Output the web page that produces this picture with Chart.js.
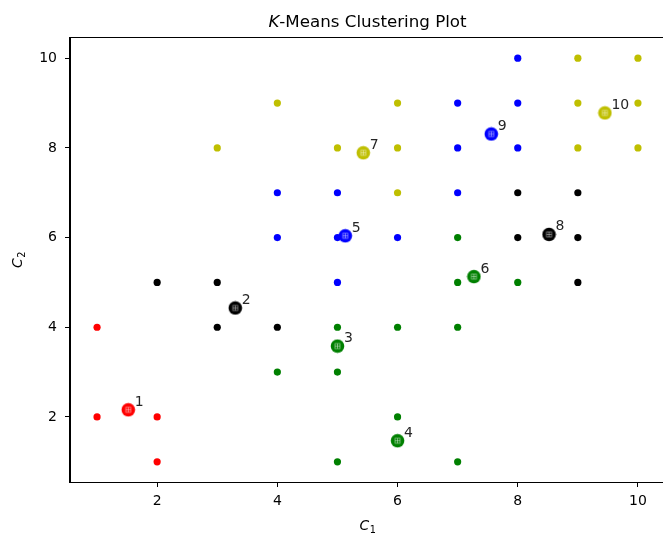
<!DOCTYPE html>
<html>
<head>
<meta charset="utf-8">
<script src="https://cdn.jsdelivr.net/npm/chart.js@4.4.1/dist/chart.umd.min.js"></script>
<style>
  html, body { margin: 0; padding: 0; overflow: hidden; background: #fff; }
  #wrap { width: 663px; height: 535px; overflow: hidden; position: relative; }
  canvas { display: block; }
</style>
</head>
<body>
<div id="wrap">
<canvas id="chart" width="680" height="535" style="width:680px;height:535px"></canvas>
</div>
<script>
// cluster members, [C1, C2]
const redPoints = [[1, 4], [1, 2], [2, 2], [2, 1]];
const blackPoints = [[2, 5], [3, 5], [3, 4], [4, 4], [8, 7], [9, 7], [8, 6], [9, 6], [9, 5]];
const greenPoints = [[4, 3], [5, 4], [5, 3], [5, 1], [6, 4], [6, 2], [7, 1], [7, 4], [7, 5], [8, 5], [7, 6]];
const bluePoints = [[4, 7], [5, 7], [4, 6], [5, 6], [5, 5], [6, 6], [7, 7], [7, 8], [8, 8], [7, 9], [8, 9], [8, 10]];
const yellowPoints = [[3, 8], [4, 9], [5, 8], [6, 9], [6, 8], [6, 7], [9, 10], [10, 10], [9, 9], [10, 9], [9, 8], [10, 8]];

// centroids
const centroidLabels = ['1', '2', '3', '4', '5', '6', '7', '8', '9', '10'];
const centroidX = [1.52, 3.3, 5.0, 6.0, 5.13, 7.27, 5.43, 8.52, 7.56, 9.45];
const centroidY = [2.16, 4.43, 3.58, 1.47, 6.04, 5.13, 7.89, 6.07, 8.31, 8.78];
const centroidColors = ['red', 'black', 'green', 'green', 'blue', 'green', 'yellow', 'black', 'blue', 'yellow'];

const xTicks = [2, 4, 6, 8, 10];
const yTicks = [2, 4, 6, 8, 10];

const colors = { red: '#ff0000', black: '#000000', green: '#008000', blue: '#0000ff', yellow: '#bfbf00' };
const FONT = 'DejaVu Sans';

function toXY(list) {
  return list.map(p => ({ x: p[0], y: p[1] }));
}

// big round marker with a faint white cross, like the centroids in the picture
const markerCache = {};
function centroidMarker(name) {
  if (markerCache[name]) return markerCache[name];
  const c = document.createElement('canvas');
  c.width = 15; c.height = 15;
  const g = c.getContext('2d');
  g.fillStyle = colors[name];
  g.beginPath();
  g.arc(7.5, 7.5, 6.8, 0, Math.PI * 2);
  g.fill();
  g.strokeStyle = 'rgba(255,255,255,0.55)';
  g.lineWidth = 0.8;
  g.strokeRect(5, 5, 5, 5);
  g.beginPath();
  g.moveTo(7.5, 5); g.lineTo(7.5, 10);
  g.moveTo(5, 7.5); g.lineTo(10, 7.5);
  g.stroke();
  markerCache[name] = c;
  return c;
}

function dotSet(points, name) {
  return {
    data: toXY(points),
    backgroundColor: colors[name],
    borderWidth: 0,
    pointRadius: 3.6,
    order: 1
  };
}

const frameAndText = {
  id: 'frameAndText',
  afterDatasetsDraw(chart) {
    const ctx = chart.ctx;
    const meta = chart.getDatasetMeta(chart.data.datasets.length - 1);
    ctx.save();
    ctx.fillStyle = '#262626';
    ctx.font = '14px "' + FONT + '"';
    ctx.textAlign = 'left';
    ctx.textBaseline = 'alphabetic';
    meta.data.forEach((el, i) => {
      ctx.fillText(centroidLabels[i], el.x + 6.5, el.y - 4);
    });
    ctx.restore();
  },
  afterDraw(chart) {
    const ctx = chart.ctx;
    const a = chart.chartArea;
    ctx.save();
    ctx.strokeStyle = '#000';
    ctx.lineWidth = 1;
    ctx.strokeRect(Math.round(a.left) - 0.5, Math.round(a.top) - 0.5, Math.round(a.right - a.left) + 1, Math.round(a.bottom - a.top) + 1);

    // title with italic K
    ctx.fillStyle = '#000';
    ctx.textBaseline = 'alphabetic';
    const cx = (a.left + a.right) / 2;
    const f1 = 'italic 16.7px "' + FONT + '"';
    const f2 = '16.7px "' + FONT + '"';
    ctx.font = f1; const w1 = ctx.measureText('K').width;
    ctx.font = f2; const w2 = ctx.measureText('-Means Clustering Plot').width;
    const x0 = cx - (w1 + w2) / 2;
    ctx.textAlign = 'left';
    ctx.font = f1; ctx.fillText('K', x0, 27);
    ctx.font = f2; ctx.fillText('-Means Clustering Plot', x0 + w1, 27);

    // axis labels C1, C2
    const drawSub = (sub, x, y) => {
      ctx.font = 'italic 13.9px "' + FONT + '"';
      const wc = ctx.measureText('C').width;
      ctx.font = '9.7px "' + FONT + '"';
      const ws = ctx.measureText(sub).width;
      const s = x - (wc + ws) / 2;
      ctx.font = 'italic 13.9px "' + FONT + '"';
      ctx.fillText('C', s, y);
      ctx.font = '9.7px "' + FONT + '"';
      ctx.fillText(sub, s + wc + 0.5, y + 3);
    };
    drawSub('1', cx, 529.5);
    ctx.translate(22, (a.top + a.bottom) / 2);
    ctx.rotate(-Math.PI / 2);
    drawSub('2', 0, 0);
    ctx.restore();
  }
};

const axisBase = {
  type: 'linear',
  min: 0.55,
  max: 10.45,
  grid: { drawOnChartArea: false, drawTicks: true, tickLength: 5, tickColor: '#000', tickWidth: 1 },
  border: { display: true, color: '#000', width: 1 },
  ticks: { color: '#000', font: { family: FONT, size: 14 }, maxRotation: 0 }
};

new Chart(document.getElementById('chart'), {
  type: 'scatter',
  data: {
    datasets: [
      dotSet(redPoints, 'red'),
      dotSet(blackPoints, 'black'),
      dotSet(greenPoints, 'green'),
      dotSet(bluePoints, 'blue'),
      dotSet(yellowPoints, 'yellow'),
      {
        data: centroidX.map((x, i) => ({ x: x, y: centroidY[i] })),
        pointStyle: centroidColors.map(centroidMarker),
        pointRadius: 7,
        order: 0
      }
    ]
  },
  options: {
    responsive: false,
    animation: false,
    devicePixelRatio: 1,
    layout: { autoPadding: false, padding: { top: 38, right: 15, left: 0, bottom: 0 } },
    plugins: { legend: { display: false }, tooltip: { enabled: false }, title: { display: false } },
    scales: {
      x: Object.assign({}, axisBase, {
        afterBuildTicks: s => { s.ticks = xTicks.map(v => ({ value: v })); },
        afterFit: s => { s.height = 53; s.paddingLeft = 0; s.paddingRight = 0; },
        ticks: Object.assign({}, axisBase.ticks, { padding: 6 })
      }),
      y: Object.assign({}, axisBase, {
        afterBuildTicks: s => { s.ticks = yTicks.map(v => ({ value: v })); },
        afterFit: s => { s.width = 70; s.paddingTop = 0; s.paddingBottom = 0; },
        ticks: Object.assign({}, axisBase.ticks, { padding: 8 })
      })
    }
  },
  plugins: [frameAndText]
});
</script>
</body>
</html>
